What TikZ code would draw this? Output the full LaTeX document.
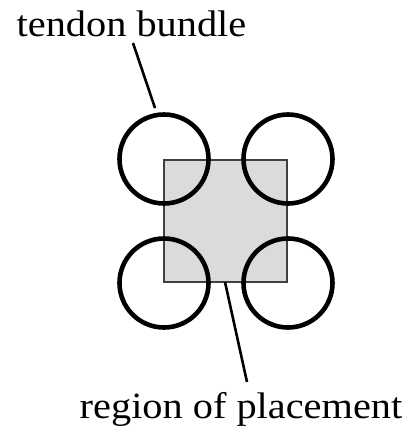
\documentclass[tikz,border=0pt]{standalone}
\usepackage{fontspec}
\newfontfamily\labfont[FakeStretch=1.09]{Liberation Serif}
\begin{document}
\begin{tikzpicture}[x=1pt,y=-1pt,
  bundle/.style={circle,draw,line width=4.6pt,minimum size=89pt,inner sep=0pt},
  regionbox/.style={rectangle,draw=black!75,fill=black!14,line width=1.3pt,inner sep=0pt,minimum width=123pt,minimum height=122pt},
  leader/.style={line width=2.6pt},
  lab/.style={font=\labfont\fontsize{37}{40}\selectfont,inner sep=0pt,anchor=base}]
\useasboundingbox (0,0) rectangle (410,429);
\node[regionbox] (sq) at (225.5,221) {};
\node[bundle] (c1) at (164,159) {};
\node[bundle] (c2) at (288,159) {};
\node[bundle] (c3) at (164,283) {};
\node[bundle] (c4) at (288,283) {};
\node[lab] (t1) at (131.5,36) {tendon bundle};
\node[lab] (t2) at (241,418) {region of placement};
\coordinate (a1) at (133,43);
\coordinate (a2) at (155,108);
\coordinate (b1) at (225,282);
\coordinate (b2) at (247,382);
\draw[leader] (a1) -- (a2);
\draw[leader] (b1) -- (b2);
\end{tikzpicture}
\end{document}
